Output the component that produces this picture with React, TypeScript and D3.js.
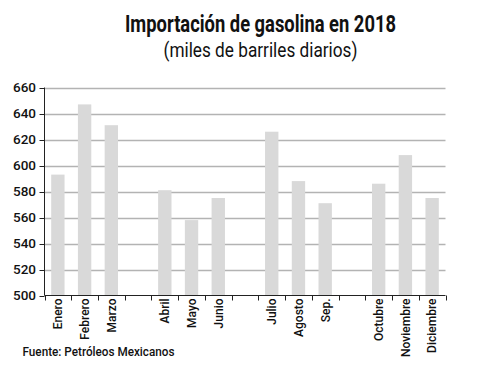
import React from "react";
import * as d3 from "d3";

const categories = ["Enero", "Febrero", "Marzo", "", "Abril", "Mayo", "Junio", " ", "Julio", "Agosto", "Sep.", "  ", "Octubre", "Noviembre", "Diciembre"];
const values: (number | null)[] = [593, 647, 631, null, 581, 558, 575, null, 626, 588, 571, null, 586, 608, 575];
const yTicks = [500, 520, 540, 560, 580, 600, 620, 640, 660];

const W = 500, H = 369;
const left = 44.5, right = 445.5, top = 87.5, bottom = 295.5;

export default function App() {
  const x = d3.scaleBand<string>().domain(categories).range([left, right]).paddingInner(0).paddingOuter(0);
  const y = d3.scaleLinear().domain([500, 660]).range([bottom, top]);
  const bw = x.bandwidth();
  const barW = bw * 0.5;
  const font = "Roboto, 'Noto Sans', sans-serif";
  return (
    <svg width={W} height={H} style={{ position: "absolute", left: 0, top: 0, background: "#fff" }} fontFamily={font}>
      <text x={260.5} y={31.5} textAnchor="middle" fontSize={23} fontWeight={700} fill="#111" textLength={271} lengthAdjust="spacingAndGlyphs">Importación de gasolina en 2018</text>
      <text x={260.5} y={56.5} textAnchor="middle" fontSize={21} fontWeight={400} fill="#111" textLength={194} lengthAdjust="spacingAndGlyphs">(miles de barriles diarios)</text>
      {yTicks.map((t) => (
        <g key={t}>
          {t !== 500 && <line x1={left} x2={right} y1={Math.round(y(t)) + 0.5} y2={Math.round(y(t)) + 0.5} stroke="#b3b3b3" strokeWidth={1.3} />}
          <line x1={left - 5} x2={left} y1={Math.round(y(t)) + 0.5} y2={Math.round(y(t)) + 0.5} stroke="#222" strokeWidth={1} />
          <text x={36} y={y(t)} dy="0.36em" textAnchor="end" fontSize={13.5} fontWeight={500} fill="#111">{t}</text>
        </g>
      ))}
      {categories.map((c, i) => {
        const v = values[i];
        if (v == null) return null;
        const cx = (x(c) as number) + bw / 2;
        return <rect key={c} x={cx - barW / 2} width={barW} y={y(v)} height={bottom - y(v)} fill="#d9d9d9" />;
      })}
      <line x1={left} x2={left} y1={top} y2={bottom} stroke="#222" strokeWidth={1} />
      <line x1={left} x2={right} y1={bottom} y2={bottom} stroke="#222" strokeWidth={1} />
      {d3.range(categories.length + 1).map((i) => {
        const xx = Math.round(left + i * bw) + 0.5;
        return <line key={i} x1={xx} x2={xx} y1={bottom} y2={bottom + 5} stroke="#222" strokeWidth={1} />;
      })}
      {categories.map((c, i) => {
        if (values[i] == null) return null;
        const cx = (x(c) as number) + bw / 2;
        return (
          <text key={c} transform={`translate(${cx},${bottom + 3}) rotate(-90)`} textAnchor="end" dy="0.36em" fontSize={12} fontWeight={500} fill="#111">{c}</text>
        );
      })}
      <text x={22.5} y={355.5} fontSize={12.5} fontWeight={500} fill="#111" textLength={152} lengthAdjust="spacingAndGlyphs">Fuente: Petróleos Mexicanos</text>
    </svg>
  );
}
